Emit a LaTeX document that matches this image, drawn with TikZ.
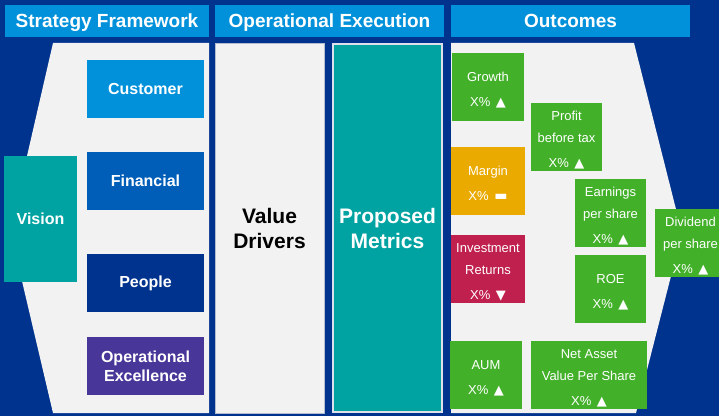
\documentclass[tikz,border=0pt]{standalone}
\usepackage{fontspec}
\setmainfont{Liberation Sans}
\newfontfamily\simboli{DejaVu Sans}
\definecolor{blu}{HTML}{00338D}
\definecolor{azzurro}{HTML}{0091DA}
\definecolor{bluscuro}{HTML}{005EB8}
\definecolor{viola}{HTML}{483698}
\definecolor{verdeacqua}{HTML}{00A3A1}
\definecolor{verde}{HTML}{43B02A}
\definecolor{arancio}{HTML}{EAAA00}
\definecolor{cremisi}{HTML}{C0204E}
\definecolor{grigio}{HTML}{F2F2F2}
\definecolor{bordo}{HTML}{B4BCD2}
\definecolor{bordochiaro}{HTML}{DDE2EA}
\newcommand{\suTri}{\hspace{2pt}{\simboli\fontsize{13}{13}\selectfont ▲}}
\newcommand{\giuTri}{\hspace{2pt}{\simboli\fontsize{13}{13}\selectfont ▼}}
\newcommand{\pariTri}{\hspace{2pt}{\simboli\fontsize{14}{14}\selectfont ▬}}
\begin{document}
\begin{tikzpicture}[x=1pt,y=1pt,
    intestazione/.style={fill=azzurro, text=white, minimum height=32pt, inner sep=0pt, text height=13.7pt, text depth=0pt, font=\fontsize{19}{23}\selectfont\bfseries},
    pilastro/.style={text=white, minimum width=117pt, minimum height=58pt, inner sep=0pt, align=center, font=\fontsize{16}{19}\selectfont\bfseries},
    esito/.style={fill=verde, text=white, minimum width=#1, minimum height=68pt, inner sep=0pt, align=center, text height=38pt, text depth=0pt, font=\fontsize{13}{22}\selectfont},
    esito/.default=72pt,
    trerighe/.style={text height=60pt},
    colonna/.style={minimum height=370pt, inner sep=0pt, align=center, font=\fontsize{21}{25}\selectfont\bfseries}]
        % Sfondo
        \clip (0,0) rectangle (719,416);
        \fill[blu] (0,0) rectangle (719,416);

        % Intestazioni
        \node[intestazione, minimum width=204pt] (strategia) at (107,395) {Strategy Framework};
        \node[intestazione, minimum width=229pt] (esecuzione) at (329.5,395) {Operational Execution};
        \node[intestazione, minimum width=239pt] (risultati) at (570.5,395) {Outcomes};

        % Pannelli
        \fill[grigio] (53,373) -- (209,373) -- (209,3) -- (53,3) -- (10,186) -- cycle; % freccia a sinistra
        \fill[grigio] (451,373) -- (634,373) -- (682,183) -- (636,3) -- (451,3) -- cycle; % freccia a destra
        \node[colonna, fill=grigio, draw=bordo, minimum width=109pt] (driver) at (269.5,188) {Value\\Drivers};
        \node[colonna, fill=verdeacqua, draw=bordochiaro, line width=2pt, text=white, minimum width=109pt, minimum height=368pt] (metriche) at (387.5,188) {Proposed\\Metrics};

        % Strategia
        \node[pilastro, fill=verdeacqua, minimum width=73pt, minimum height=126pt] (visione) at (40.5,197) {Vision};
        \node[pilastro, fill=azzurro] (cliente) at (145.5,327) {Customer};
        \node[pilastro, fill=bluscuro] (finanza) at (145.5,235) {Financial};
        \node[pilastro, fill=blu] (persone) at (145.5,133) {People};
        \node[pilastro, fill=viola] (eccellenza) at (145.5,50) {Operational\\Excellence};

        % Risultati
        \node[esito] (crescita) at (488,329) {Growth\\[2.5pt]X\% \suTri};
        \node[esito=71pt, trerighe] (utile) at (566.5,279) {Profit\\before tax\\[2.5pt]X\% \suTri};
        \node[esito=74pt, fill=arancio] (margine) at (488,235) {Margin\\[2.5pt]X\% \pariTri};
        \node[esito=71pt, trerighe] (eps) at (610.5,203) {Earnings\\per share\\[2.5pt]X\% \suTri};
        \node[esito=74pt, trerighe, fill=cremisi] (rendimenti) at (488,147) {Investment\\Returns\\[2.5pt]X\% \giuTri};
        \node[esito=71pt] (roe) at (610.5,127) {ROE\\[2.5pt]X\% \suTri};
        \node[esito=71pt, trerighe] (dividendo) at (690.5,173) {Dividend\\per share\\[2.5pt]X\% \suTri};
        \node[esito] (aum) at (486,41) {AUM\\[2.5pt]X\% \suTri};
        \node[esito=116pt, trerighe] (nav) at (589,41) {Net Asset\\Value Per Share\\[2.5pt]X\% \suTri};
\end{tikzpicture}
\end{document}
